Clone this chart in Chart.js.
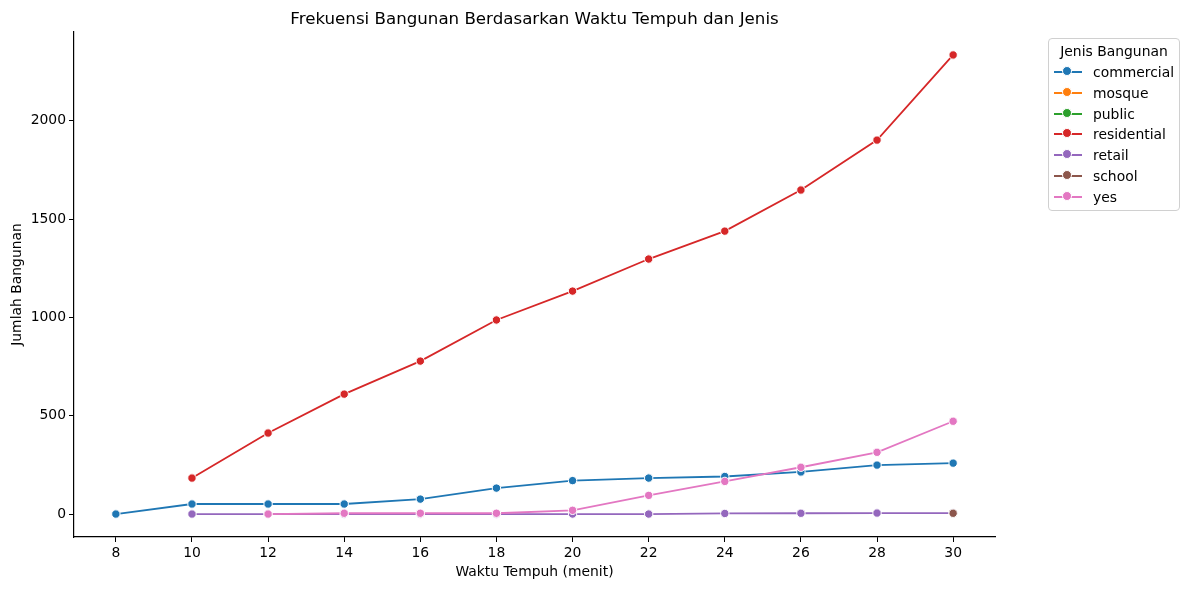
<!DOCTYPE html>
<html>
<head>
<meta charset="utf-8">
<script src="https://cdn.jsdelivr.net/npm/chart.js@4"></script>
<style>
  html, body { margin: 0; padding: 0; background: #fff; }
  #wrap { position: relative; width: 1189px; height: 590px; font-family: "DejaVu Sans", sans-serif; }
  #legend {
    position: absolute; left: 1048px; top: 38px; width: 132px; height: 173px;
    border: 1px solid #d0d0d0; border-radius: 4px; box-sizing: border-box;
    font-size: 13.9px; color: #000;
  }
  #legend .ttl { text-align: center; margin-top: 3px; height: 20px; line-height: 18px; }
  #legend .row { height: 20.8px; line-height: 20.8px; white-space: nowrap; position: relative; }
  #legend .mk { position: absolute; left: 5px; top: 9px; width: 28px; height: 2px; }
  #legend .dot { position: absolute; left: 9px; top: -4px; width: 8px; height: 8px; border-radius: 50%; border: 1px solid #fff; box-sizing: content-box; margin-left: -1px; margin-top: -1px; }
  #legend .lbl { position: absolute; left: 44px; }
</style>
</head>
<body>
<div id="wrap">
  <canvas id="myChart" width="1189" height="590"></canvas>
  <div id="legend"></div>
</div>
<script>
const xValues = [8, 10, 12, 14, 16, 18, 20, 22, 24, 26, 28, 30];
const yTicks = [0, 500, 1000, 1500, 2000];

const commercial  = [0, 51, 51, 51, 76, 132, 170, 183, 191, 214, 249, 259];
const mosque      = [null, null, null, null, null, null, null, null, null, null, null, 4];
const publicB     = [null, null, null, null, null, null, null, null, null, null, null, 4];
const residential = [null, 183, 412, 610, 778, 987, 1134, 1297, 1439, 1648, 1902, 2335];
const retail      = [null, 0, 0, 0, 0, 0, 0, 0, 3, 4, 5, 5];
const school      = [null, null, null, null, null, null, null, null, null, null, null, 4];
const yes         = [null, null, 0, 4, 4, 4, 19, 95, 166, 238, 314, 472];

const seriesNames = ['commercial', 'mosque', 'public', 'residential', 'retail', 'school', 'yes'];
const seriesData = [commercial, mosque, publicB, residential, retail, school, yes];
const seriesColors = ['#1f77b4', '#ff7f0e', '#2ca02c', '#d62728', '#9467bd', '#8c564b', '#e377c2'];

function toPoints(arr) {
    const pts = [];
    arr.forEach(function (v, i) {
        if (v !== null) pts.push({ x: xValues[i], y: v });
    });
    return pts;
}

const datasets = seriesNames.map(function (name, i) {
    return {
        label: name,
        data: toPoints(seriesData[i]),
        order: seriesNames.length - i, // later series drawn on top
        borderColor: seriesColors[i],
        backgroundColor: seriesColors[i],
        borderWidth: 1.8,
        pointRadius: 4.2,
        pointBorderColor: '#ffffff',
        pointBorderWidth: 1,
        pointBackgroundColor: seriesColors[i],
        tension: 0,
        fill: false
    };
});

// legend box on the right, built from the same names/colours
const legend = document.getElementById('legend');
let html = '<div class="ttl">Jenis Bangunan</div>';
seriesNames.forEach(function (name, i) {
    html += '<div class="row"><span class="mk" style="background:' + seriesColors[i] + '">' +
        '<span class="dot" style="background:' + seriesColors[i] + '"></span></span>' +
        '<span class="lbl">' + name + '</span></div>';
});
legend.innerHTML = html;

Chart.defaults.font.family = '"DejaVu Sans", sans-serif';
Chart.defaults.color = '#000';

const ctx = document.getElementById('myChart').getContext('2d');
new Chart(ctx, {
    type: 'line',
    data: { datasets: datasets },
    options: {
        responsive: false,
        animation: false,
        layout: { padding: { left: 9, right: 194, top: 0, bottom: 9 } },
        scales: {
            x: {
                type: 'linear',
                min: 6.9,
                max: 31.1,
                afterBuildTicks: function (scale) {
                    scale.ticks = xValues.map(function (v) { return { value: v }; });
                },
                afterFit: function (scale) { scale.height = 44; },
                ticks: { font: { size: 13.9 }, padding: 3, maxRotation: 0,
                    callback: function (v) { return v; } },
                grid: { drawOnChartArea: false, drawTicks: true, tickLength: 5, color: '#000', tickWidth: 1 },
                border: { display: true, color: '#000', width: 1.2 },
                title: { display: true, text: 'Waktu Tempuh (menit)', font: { size: 13.9 }, padding: { top: 2, bottom: 0 } }
            },
            y: {
                min: -116.75,
                max: 2451.75,
                afterBuildTicks: function (scale) {
                    scale.ticks = yTicks.map(function (v) { return { value: v }; });
                },
                afterFit: function (scale) { scale.width = 65; },
                ticks: { font: { size: 13.9 }, padding: 3,
                    callback: function (v) { return v; } },
                grid: { drawOnChartArea: false, drawTicks: true, tickLength: 5, color: '#000', tickWidth: 1 },
                border: { display: true, color: '#000', width: 1.2 },
                title: { display: true, text: 'Jumlah Bangunan', font: { size: 13.9 }, padding: { top: 0, bottom: 6 } }
            }
        },
        plugins: {
            legend: { display: false },
            tooltip: { enabled: false },
            title: {
                display: true,
                fullSize: false,
                text: 'Frekuensi Bangunan Berdasarkan Waktu Tempuh dan Jenis',
                color: '#000',
                font: { size: 16.67, weight: 'normal' },
                padding: { top: 10, bottom: 2 }
            }
        }
    }
});
</script>
</body>
</html>
